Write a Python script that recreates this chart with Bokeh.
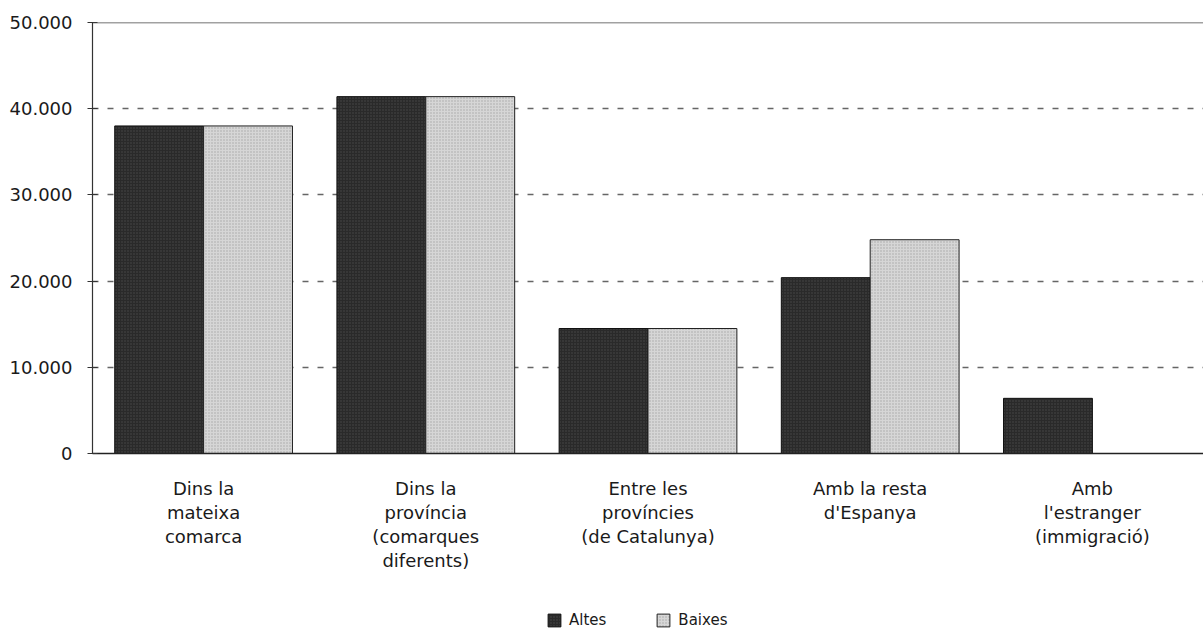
from bokeh.plotting import figure
from bokeh.models import FixedTicker, Span, Legend, LegendItem, ColumnDataSource, FactorRange
from bokeh.layouts import column
from bokeh.transform import dodge
from bokeh.embed import file_html
from bokeh.resources import INLINE

categories = ["Dins la\nmateixa\ncomarca",
              "Dins la\nprovíncia\n(comarques\ndiferents)",
              "Entre les\nprovíncies\n(de Catalunya)",
              "Amb la resta\nd'Espanya",
              "Amb\nl'estranger\n(immigració)"]
altes = [38000, 41400, 14500, 20400, 6400]
baixes = [38000, 41400, 14500, 24800, 0]
series_names = ["Altes", "Baixes"]
y_ticks = [0, 10000, 20000, 30000, 40000, 50000]
y_tick_labels = ["0", "10.000", "20.000", "30.000", "40.000", "50.000"]

FONT = "DejaVu Sans"
DARK = dict(fill_color="#2a2a2a", line_color="#111111", line_width=1,
            hatch_pattern="dot", hatch_color="#4a4a4a", hatch_scale=3, hatch_weight=1)
LIGHT = dict(fill_color="#d6d6d6", line_color="#222222", line_width=1,
             hatch_pattern="dot", hatch_color="#a8a8a8", hatch_scale=3, hatch_weight=1)

src = ColumnDataSource(dict(cat=categories, altes=altes, baixes=baixes))

p = figure(x_range=FactorRange(*categories, range_padding=0), y_range=(0, 50000),
           width=1203, height=600, output_backend="svg", toolbar_location=None,
           min_border_left=92, min_border_top=22, min_border_bottom=147, min_border_right=0)
p.x_range.range_padding = 0

p.vbar(x=dodge("cat", -0.2, range=p.x_range), top="altes", width=0.4, source=src, **DARK)
p.vbar(x=dodge("cat", 0.2, range=p.x_range), top="baixes", width=0.4, source=src, **LIGHT)

p.outline_line_color = None
p.background_fill_color = "white"
p.border_fill_color = "white"

p.xgrid.grid_line_color = None
p.ygrid.ticker = FixedTicker(ticks=y_ticks[1:-1])
p.ygrid.grid_line_color = "#666666"
p.ygrid.grid_line_dash = "6 9"
p.ygrid.grid_line_width = 1.3

top_line = Span(location=y_ticks[-1], dimension="width", line_color="#444444", line_width=1.4)
p.add_layout(top_line)

p.yaxis.ticker = FixedTicker(ticks=y_ticks)
p.yaxis.major_label_overrides = {t: l for t, l in zip(y_ticks, y_tick_labels)}
p.yaxis.major_label_text_font = FONT
p.yaxis.major_label_text_font_size = "18px"
p.yaxis.major_label_text_color = "#1a1a1a"
p.yaxis.major_tick_in = 5
p.yaxis.major_tick_out = 5
p.yaxis.minor_tick_line_color = None
p.yaxis.axis_line_color = "#333333"
p.yaxis.axis_line_width = 1.2
p.yaxis.major_tick_line_color = "#333333"
p.yaxis.major_tick_line_width = 1.2
p.yaxis.major_label_standoff = 15

p.xaxis.major_tick_line_color = None
p.xaxis.minor_tick_line_color = None
p.xaxis.axis_line_color = "#222222"
p.xaxis.axis_line_width = 1.4
p.xaxis.major_label_text_font = FONT
p.xaxis.major_label_text_font_size = "18px"
p.xaxis.major_label_text_color = "#1a1a1a"
p.xaxis.major_label_standoff = 18
p.xaxis.major_label_text_line_height = 1.15

# legend in its own strip below the chart (frames are aligned by the column layout)
lg = figure(width=1203, height=31, x_range=(0, 1), y_range=(0, 1), output_backend="svg",
            toolbar_location=None, min_border=0)
lg.axis.visible = False
lg.grid.visible = False
lg.outline_line_color = None
lg.border_fill_color = "white"
lsrc = ColumnDataSource(dict(x=[5], top=[5]))
l1 = lg.vbar(x="x", top="top", width=0.1, source=lsrc, **DARK)
l2 = lg.vbar(x="x", top="top", width=0.1, source=lsrc, **LIGHT)
legend = Legend(items=[LegendItem(label=series_names[0], renderers=[l1]),
                       LegendItem(label=series_names[1], renderers=[l2])],
                orientation="horizontal", location=(454, 2),
                border_line_color=None, background_fill_alpha=0,
                padding=2, margin=0,
                label_text_font=FONT, label_text_font_size="15px",
                label_text_color="#1a1a1a",
                glyph_width=16, glyph_height=16, spacing=49, label_standoff=7)
lg.add_layout(legend, "center")

layout = column(p, lg, spacing=0)
open("out.html", "w").write(file_html(layout, INLINE))
